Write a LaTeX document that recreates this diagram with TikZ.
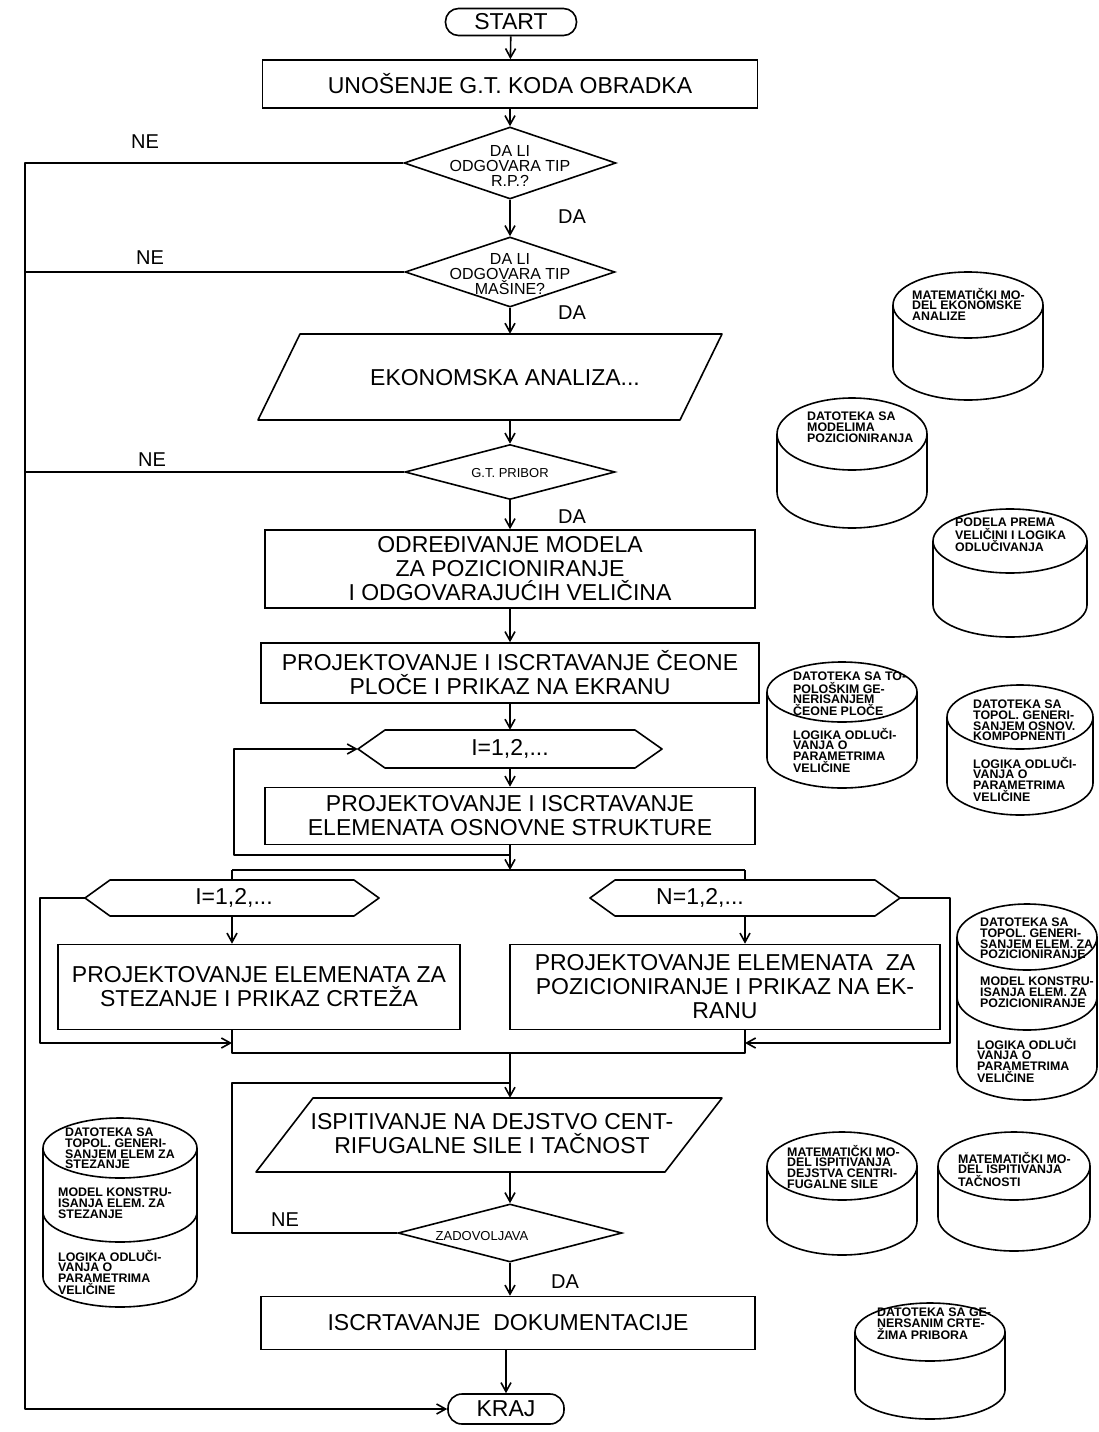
\documentclass[tikz,border=0pt]{standalone}
\usepackage{fontspec}
\setmainfont{Liberation Sans}
\usetikzlibrary{arrows.meta,shapes.geometric,calc}
\newcommand\fA{\fontsize{23}{24}\selectfont}
\newcommand\fT{\fontsize{23}{24}\selectfont}
\newcommand\fD{\fontsize{16}{15}\selectfont}
\newcommand\fS{\fontsize{13}{14}\selectfont}
\newcommand\fL{\fontsize{20}{21}\selectfont}
\newcommand\fC{\bfseries\fontsize{12.4}{10.6}\selectfont}
% cylinder: cx, ytop, ybot, rx, ry
\newcommand\mycyl[5]{%
  \draw[cyl] (#1,#2) ellipse [x radius=#4pt, y radius=#5pt];
  \draw[cyl] (#1-#4,#2) -- (#1-#4,#3) arc[start angle=180,end angle=360,x radius=#4pt,y radius=#5pt] -- (#1+#4,#2);}
% separator arc: cx, y, rx, ry
\newcommand\mysep[4]{%
  \draw[cyl] (#1-#3,#2) arc[start angle=180,end angle=360,x radius=#3pt,y radius=#4pt];}
% hexagon: cx, cy, half width, half height, inset
\newcommand\myhex[5]{%
  \draw[ln] (#1-#3,#2) -- (#1-#3+#5,#2-#4) -- (#1+#3-#5,#2-#4) -- (#1+#3,#2) -- (#1+#3-#5,#2+#4) -- (#1-#3+#5,#2+#4) -- cycle;}
\begin{document}
\begin{tikzpicture}[x=1pt,y=-1pt,
  ln/.style={line width=1.6pt, line join=round},
  cyl/.style={line width=1.6pt},
  arr/.style={line width=1.6pt, line join=round, -{Straight Barb[length=9pt,width=10pt]}},
  box/.style={draw, line width=1.6pt, inner sep=0pt, align=center, font=\fA},
  ghost/.style={inner sep=0pt, align=center, font=\fA},
  dia/.style={draw, diamond, line width=1.6pt, inner sep=0pt},
  dtext/.style={inner sep=0pt, align=center, font=\fD},
  term/.style={draw, line width=1.6pt, rounded corners=13pt, inner sep=0pt, font=\fT},
  lab/.style={inner sep=0pt, font=\fL},
  ctext/.style={font=\fC, align=left, anchor=north west, inner sep=0pt}]
\useasboundingbox[fill=white] (0,0) rectangle (1099,1432);

% ---------------- main column ----------------
\node[term, minimum width=131pt, minimum height=27pt] (start) at (511,22) {START};
\node[box, minimum width=495pt, minimum height=48pt] (b1) at (510,84) {UNOŠENJE G.T. KODA OBRADKA};
\node[dia, minimum width=212pt, minimum height=72pt] (d1) at (510,163) {};
\node[dtext] (d1t) at (510,166) {DA LI\\ODGOVARA TIP\\R.P.?};
\node[dia, minimum width=210pt, minimum height=70pt] (d2) at (510,272) {};
\node[dtext] (d2t) at (510,274) {DA LI\\ODGOVARA TIP\\MAŠINE?};

\node[ghost, minimum width=464pt, minimum height=86pt] (p1) at (489,377) {};
\draw[ln] (300,334) -- (722,334) -- (680,420) -- (258,420) -- cycle;
\node[ghost] (p1t) at (505,378) {EKONOMSKA ANALIZA...};

\node[dia, minimum width=210pt, minimum height=55pt] (d3) at (510,472) {};
\node[dtext, font=\fS] (d3t) at (510,473) {G.T. PRIBOR};
\node[box, minimum width=490pt, minimum height=78pt] (b3) at (510,569) {ODREĐIVANJE MODELA\\ZA POZICIONIRANJE\\I ODGOVARAJUĆIH VELIČINA};
\node[box, minimum width=498pt, minimum height=60pt] (b4) at (510,673) {PROJEKTOVANJE I ISCRTAVANJE ČEONE\\PLOČE I PRIKAZ NA EKRANU};
\myhex{510}{749}{152}{19}{27}
\node[ghost, minimum width=304pt, minimum height=38pt] (hx) at (510,749) {I=1,2,...};
\node[box, minimum width=490pt, minimum height=57pt] (b5) at (510,816) {PROJEKTOVANJE I ISCRTAVANJE\\ELEMENATA OSNOVNE STRUKTURE};

% lower branches
\myhex{232}{898}{147}{18}{25}
\node[ghost, minimum width=294pt, minimum height=36pt] (lhx) at (232,898) {};
\node[ghost] (lhxt) at (234,898) {I=1,2,...};
\myhex{745}{898}{155}{18}{25}
\node[ghost, minimum width=310pt, minimum height=36pt] (rhx) at (745,898) {};
\node[ghost] (rhxt) at (700,898) {N=1,2,...};
\node[box, minimum width=402pt, minimum height=85pt] (lb) at (259,987) {PROJEKTOVANJE ELEMENATA ZA\\STEZANJE I PRIKAZ CRTEŽA};
\node[box, minimum width=430pt, minimum height=85pt] (rb) at (725,987) {PROJEKTOVANJE ELEMENATA\ \ ZA\\POZICIONIRANJE I PRIKAZ NA EK-\\RANU};

\node[ghost, minimum width=466pt, minimum height=74pt] (p2) at (489,1135) {};
\draw[ln] (313,1098) -- (722,1098) -- (665,1172) -- (256,1172) -- cycle;
\node[ghost] (p2t) at (492,1134) {ISPITIVANJE NA DEJSTVO CENT-\\RIFUGALNE SILE I TAČNOST};

\node[dia, minimum width=224pt, minimum height=58pt] (d4) at (510,1233) {};
\node[dtext, font=\fS] (d4t) at (482,1236) {ZADOVOLJAVA};
\node[box, minimum width=494pt, minimum height=53pt] (b6) at (508,1323) {ISCRTAVANJE\ \ DOKUMENTACIJE};
\node[term, minimum width=116pt, minimum height=30pt, rounded corners=14pt] (kraj) at (506,1409) {KRAJ};

% labels
\node[lab] (ne1) at (145,142) {NE};
\node[lab] (ne2) at (150,258) {NE};
\node[lab] (ne3) at (152,460) {NE};
\node[lab] (ne4) at (285,1220) {NE};
\node[lab] (da1) at (572,217) {DA};
\node[lab] (da2) at (572,313) {DA};
\node[lab] (da3) at (572,517) {DA};
\node[lab] (da4) at (565,1282) {DA};

% coordinates
\coordinate (L) at (25,800);
\coordinate (lpA) at (510,855);
\coordinate (lpB) at (234,855);
\coordinate (sL) at (232,870);
\coordinate (sR) at (745,870);
\coordinate (mL) at (232,1053);
\coordinate (mR) at (745,1053);
\coordinate (mC) at (510,1053);
\coordinate (llp) at (40,1043);
\coordinate (rlp) at (950,1043);
\coordinate (nel) at (232,1083);

% connectors
\draw[arr] (start) -- (b1);
\draw[arr] (b1) -- (d1);
\draw[arr] (d1) -- (d2);
\draw[arr] (d2.south) -- (d2.south |- p1.north);
\draw[arr] (p1.south -| d3) -- (d3.north);
\draw[arr] (d3) -- (b3);
\draw[arr] (b3) -- (b4);
\draw[arr] (b4) -- (hx);
\draw[arr] (hx) -- (b5);
\draw[arr] (b5.south) -- (b5.south |- sL);
\draw[arr] (lpA) -- (lpB) |- (hx.west);
\draw[ln] (sL) -- (sR);
\draw[ln] (sL) -- (sL |- lhx.north);
\draw[ln] (sR) -- (sR |- rhx.north);
\draw[arr] (lhx.south -| sL) -- (lb.north -| sL);
\draw[arr] (rhx.south -| sR) -- (rb.north -| sR);
\draw[arr] (lhx.west) -| (llp) -- (llp -| sL);
\draw[arr] (rhx.east) -| (rlp) -- (rlp -| sR);
\draw[ln] (lb.south -| mL) -- (mL) -- (mR) -- (rb.south -| mR);
\draw[arr] (mC) -- (mC |- p2.north);
\draw[ln] (d4.west) -| (nel) -- (nel -| mC);
\draw[arr] (p2.south -| d4) -- (d4.north);
\draw[arr] (d4.south) -- (d4.south |- b6.north);
\draw[arr] (b6.south -| kraj) -- (kraj.north);
\draw[ln] (d2.west) -- (d2.west -| L);
\draw[ln] (d3.west) -- (d3.west -| L);
\draw[arr] (d1.west) -| (L) |- (kraj.west);

% ---------------- cylinders ----------------
\mycyl{968}{305}{367}{75}{33}
\node[ctext] (c1) at (912,288) {MATEMATIČKI MO-\\DEL EKONOMSKE\\ANALIZE};
\mycyl{852}{434}{492}{75}{36}
\node[ctext] (c2) at (807,412) {DATOTEKA SA\\MODELIMA\\POZICIONIRANJA};
\mycyl{1010}{541}{605}{77}{32}
\node[ctext] (c3) at (955,518) {PODELA PREMA\\VELIČINI I LOGIKA\\ODLUČIVANJA};
\mycyl{842}{692}{758}{75}{30}
\node[ctext] (c4a) at (793,672) {DATOTEKA SA TO-\\POLOŠKIM GE-\\NERISANJEM\\ČEONE PLOČE};
\node[ctext] (c4b) at (793,728) {LOGIKA ODLUČI-\\VANJA O\\PARAMETRIMA\\VELIČINE};
\mycyl{1020}{717}{783}{73}{32}
\node[ctext] (c5a) at (973,700) {DATOTEKA SA\\TOPOL. GENERI-\\SANJEM OSNOV.\\KOMPOPNENTI};
\node[ctext] (c5b) at (973,757) {LOGIKA ODLUČI-\\VANJA O\\PARAMETRIMA\\VELIČINE};
\mycyl{1027}{937}{1067}{70}{33}
\mysep{1027}{997}{70}{33}
\node[ctext] (c6a) at (980,918) {DATOTEKA SA\\TOPOL. GENERI-\\SANJEM ELEM. ZA\\POZICIONIRANJE};
\node[ctext] (c6b) at (980,977) {MODEL KONSTRU-\\ISANJA ELEM. ZA\\POZICIONIRANJE};
\node[ctext] (c6c) at (977,1038) {LOGIKA ODLUČI\\VANJA O\\PARAMETRIMA\\VELIČINE};
\mycyl{120}{1148}{1277}{77}{30}
\mysep{120}{1212}{77}{30}
\node[ctext] (c7a) at (65,1128) {DATOTEKA SA\\TOPOL. GENERI-\\SANJEM ELEM ZA\\STEZANJE};
\node[ctext] (c7b) at (58,1188) {MODEL KONSTRU-\\ISANJA ELEM. ZA\\STEZANJE};
\node[ctext] (c7c) at (58,1250) {LOGIKA ODLUČI-\\VANJA O\\PARAMETRIMA\\VELIČINE};
\mycyl{842}{1166}{1221}{75}{34}
\node[ctext] (c8) at (787,1145) {MATEMATIČKI MO-\\DEL ISPITIVANJA\\DEJSTVA CENTRI-\\FUGALNE SILE};
\mycyl{1014}{1166}{1217}{76}{34}
\node[ctext] (c9) at (958,1152) {MATEMATIČKI MO-\\DEL ISPITIVANJA\\TAČNOSTI};
\mycyl{930}{1332}{1390}{75}{29}
\node[ctext] (c10) at (877,1308) {DATOTEKA SA GE-\\NERSANIM CRTE-\\ŽIMA PRIBORA};
\end{tikzpicture}
\end{document}
